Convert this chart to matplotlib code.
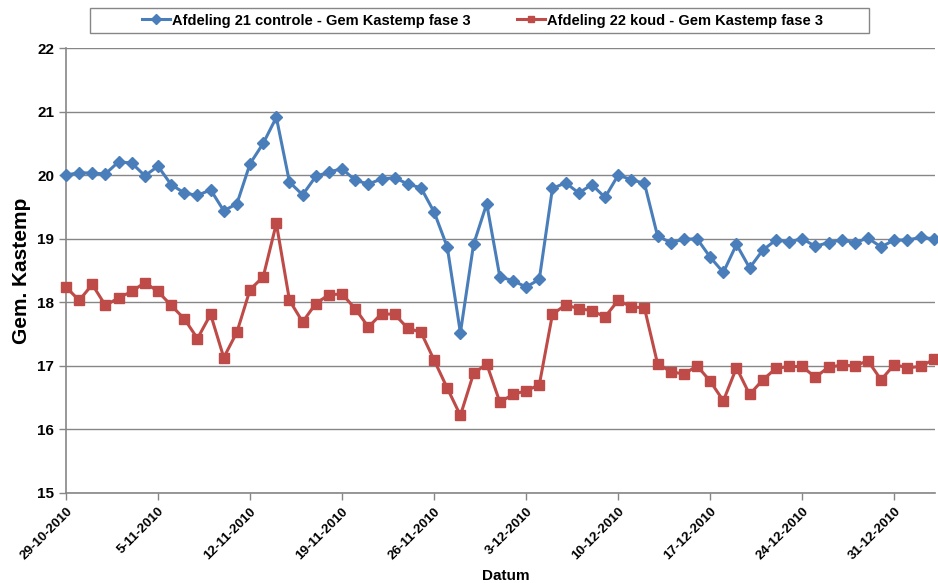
import numpy as np
import matplotlib
matplotlib.use("Agg")
import matplotlib.pyplot as plt
from matplotlib.patches import Rectangle
from datetime import datetime, timedelta

plt.rcParams['font.family'] = ['Liberation Sans', 'DejaVu Sans']

start_date = datetime(2010, 10, 29)
n_days = 67
dates = [start_date + timedelta(days=i) for i in range(n_days)]

afd21 = [20.00, 20.04, 20.03, 20.02, 20.21, 20.19, 19.99, 20.14, 19.85, 19.72,
         19.68, 19.77, 19.44, 19.55, 20.18, 20.50, 20.91, 19.89, 19.69, 19.98,
         20.05, 20.10, 19.92, 19.86, 19.94, 19.96, 19.86, 19.80, 19.42, 18.87,
         17.52, 18.91, 19.55, 18.40, 18.34, 18.24, 18.36, 19.79, 19.88, 19.72,
         19.85, 19.65, 20.00, 19.93, 19.87, 19.04, 18.94, 18.99, 19.00, 18.71,
         18.47, 18.91, 18.54, 18.82, 18.98, 18.95, 19.00, 18.88, 18.94, 18.98,
         18.94, 19.01, 18.87, 18.98, 18.98, 19.02, 19.00]

afd22 = [18.24, 18.03, 18.28, 17.95, 18.07, 18.17, 18.31, 18.17, 17.95, 17.74,
         17.43, 17.81, 17.13, 17.53, 18.20, 18.40, 19.24, 18.03, 17.69, 17.98,
         18.12, 18.13, 17.90, 17.61, 17.82, 17.81, 17.59, 17.53, 17.09, 16.65,
         16.22, 16.88, 17.03, 16.43, 16.55, 16.61, 16.70, 17.81, 17.96, 17.90,
         17.87, 17.77, 18.03, 17.93, 17.91, 17.03, 16.91, 16.87, 17.00, 16.76,
         16.45, 16.97, 16.55, 16.78, 16.96, 16.99, 16.99, 16.82, 16.98, 17.01,
         17.00, 17.08, 16.78, 17.02, 16.97, 16.99, 17.10]

tick_labels = ["29-10-2010", "5-11-2010", "12-11-2010", "19-11-2010", "26-11-2010",
               "3-12-2010", "10-12-2010", "17-12-2010", "24-12-2010", "31-12-2010"]
series_names = ["Afdeling 21 controle - Gem Kastemp fase 3",
                "Afdeling 22 koud - Gem Kastemp fase 3"]
y_ticks = [15, 16, 17, 18, 19, 20, 21, 22]

blue = "#4A7EBB"
red = "#BE4B48"

W, H = 938, 583
fig = plt.figure(figsize=(W/100, H/100), dpi=100)
ax = fig.add_axes([66/W, 1 - 493/H, (935-66)/W, (493-48)/H])

l1, = ax.plot(dates, afd21, color=blue, lw=2.2, marker="D", ms=6.5,
              markeredgecolor=blue, markerfacecolor=blue, zorder=3, clip_on=False)
l2, = ax.plot(dates, afd22, color=red, lw=2.2, marker="s", ms=7.5,
              markeredgecolor=red, markerfacecolor=red, zorder=3, clip_on=False)

ax.set_ylim(15, 22)
ax.set_yticks(y_ticks)
ax.set_xlim(dates[0], dates[-1] + timedelta(days=0.1))
tick_dates = [dates[0] + timedelta(days=7 * i) for i in range(len(tick_labels))]
ax.set_xticks(tick_dates)
ax.set_xticklabels(tick_labels, rotation=45, ha="right", rotation_mode="anchor",
                   fontsize=9.6, fontweight="bold")
for lab in ax.get_yticklabels():
    lab.set_fontsize(11)
    lab.set_fontweight("bold")

ax.yaxis.grid(True, color="#868686", lw=1.0)
ax.set_axisbelow(True)
for s in ["top", "right"]:
    ax.spines[s].set_visible(False)
for s in ["left", "bottom"]:
    ax.spines[s].set_color("#868686")
    ax.spines[s].set_linewidth(1.2)
ax.tick_params(axis="both", direction="out", length=5, color="#868686", width=1)
ax.tick_params(axis="x", pad=4)

ax.set_ylabel("Gem. Kastemp", fontsize=15, fontweight="bold")
ax.yaxis.set_label_coords((31-66)/869, 0.5)
ax.set_xlabel("Datum", fontsize=11, fontweight="bold")
ax.xaxis.set_label_coords((506-66)/869, -0.17)

fig.patches.append(Rectangle((90/W, 1 - 33/H), (869-90)/W, 25/H,
                             transform=fig.transFigure, fill=False,
                             edgecolor="#868686", lw=1.0))
leg = fig.legend([l1, l2], series_names, ncol=2, loc="center",
                 bbox_to_anchor=(482.5/W, 1 - 20.5/H), frameon=False,
                 prop={"weight": "bold", "size": 10.5}, handlelength=1.9,
                 columnspacing=3.2, borderpad=0.3, handletextpad=0.15)
for h in leg.legend_handles:
    h.set_markersize(5)

fig.savefig("out.png", dpi=100)
